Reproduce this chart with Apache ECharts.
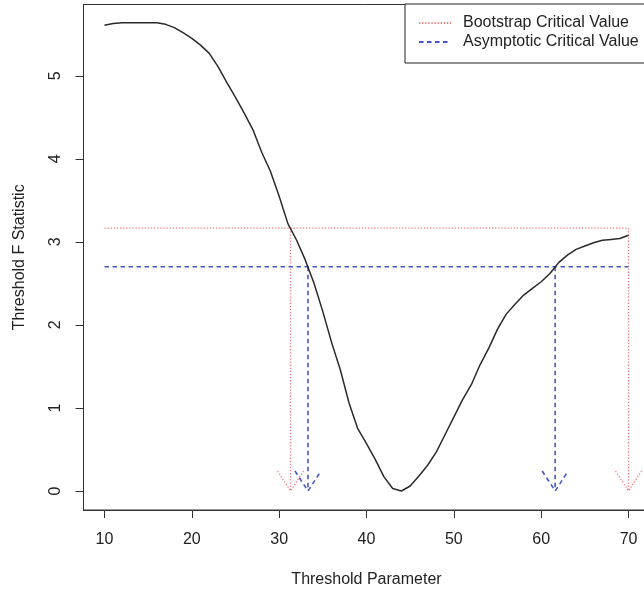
<!DOCTYPE html>
<html>
<head>
<meta charset="utf-8">
<script src="https://cdn.jsdelivr.net/npm/echarts@6/dist/echarts.min.js"></script>
<style>
  html, body { margin: 0; padding: 0; background: #fff; }
  #chart1 { width: 644px; height: 591px; }
</style>
</head>
<body>
<div id="chart1"></div>
<script>
  // threshold grid and F statistic
  var thresholds = [10, 11, 12, 13, 14, 15, 16, 17, 18, 19, 20, 21, 22, 23, 24, 25, 26, 27, 28, 29, 30,
    31, 32, 33, 34, 35, 36, 37, 38, 39, 40, 41, 42, 43, 44, 45, 46, 47, 48, 49, 50,
    51, 52, 53, 54, 55, 56, 57, 58, 59, 60, 61, 62, 63, 64, 65, 66, 67, 68, 69, 70];
  var fStats = [5.61, 5.63, 5.64, 5.64, 5.64, 5.64, 5.64, 5.62, 5.58, 5.52, 5.45,
    5.37, 5.27, 5.11, 4.92, 4.74, 4.55, 4.35, 4.08, 3.85, 3.55,
    3.22, 3.02, 2.78, 2.50, 2.16, 1.79, 1.46, 1.06, 0.75, 0.57,
    0.38, 0.17, 0.03, 0.00, 0.06, 0.18, 0.31, 0.47, 0.68, 0.89,
    1.10, 1.28, 1.52, 1.72, 1.95, 2.13, 2.25, 2.36, 2.44, 2.52,
    2.62, 2.75, 2.84, 2.91, 2.95, 2.99, 3.02, 3.03, 3.04, 3.08];

  var bootstrapCV = 3.165;
  var asymptoticCV = 2.70;
  var bootstrapX = [31.3, 70];     // where the arrows point for the bootstrap value
  var asymptoticX = [33.3, 61.6];  // ... and for the asymptotic value

  var xTicks = [10, 20, 30, 40, 50, 60, 70];
  var yTicks = [0, 1, 2, 3, 4, 5];

  const redCol = '#ef7b7b';
  const blueCol = '#4656c8';
  const redDash = [1.3, 1.8];
  const blueDash = [4.5, 3.5];

  // vertical line down to zero with an open arrow head
  const arrowSeries = (name, xs, cv, color, dash, width) => ({
    name: name,
    type: 'custom',
    silent: true,
    renderItem: function (params, api) {
      let top = api.coord([api.value(0), api.value(1)]);
      let tip = api.coord([api.value(0), 0]);
      let style = { stroke: color, lineWidth: width, lineDash: dash, fill: null };
      return {
        type: 'group',
        children: [
          { type: 'polyline', shape: { points: [top, tip] }, style: style },
          { type: 'polyline', shape: { points: [[tip[0] - 13, tip[1] - 20], tip, [tip[0] + 13, tip[1] - 20]] }, style: style }
        ]
      };
    },
    data: xs.map(x => [x, cv])
  });

  const drawThresholdChart = chartId => {
    let myChart = echarts.init(document.getElementById(chartId));
    let option;
    let font = "'Liberation Sans', Helvetica, Arial, sans-serif";

    option = {
      animation: false,
      textStyle: { fontFamily: font },
      grid: {
        left: 83.5,
        top: 4.5,
        width: 566,
        height: 505.5,
        show: true,
        borderColor: '#333',
        borderWidth: 1,
        outerBoundsMode: 'none'
      },
      legend: {
        data: ['Bootstrap Critical Value', 'Asymptotic Critical Value'],
        orient: 'vertical',
        left: 405,
        top: 4,
        padding: [11, 10, 13, 13],
        itemGap: 3,
        itemWidth: 32,
        itemHeight: 14,
        itemStyle: { opacity: 0 },
        backgroundColor: '#fff',
        borderColor: '#222',
        borderWidth: 1,
        borderRadius: 0,
        selectedMode: false,
        textStyle: { fontSize: 16, color: '#222', fontFamily: font, padding: [0, 0, 0, 7] }
      },
      xAxis: {
        type: 'value',
        min: 7.6,
        max: 72.4,
        name: 'Threshold Parameter',
        nameLocation: 'middle',
        nameGap: 62,
        nameTextStyle: { fontSize: 16, color: '#222', fontFamily: font },
        axisLine: { show: true, onZero: false, lineStyle: { color: '#333', width: 1 } },
        axisTick: { show: true, length: 8, customValues: xTicks, lineStyle: { color: '#333' } },
        axisLabel: { customValues: xTicks, fontSize: 16, color: '#222', margin: 22, fontFamily: font },
        splitLine: { show: false }
      },
      yAxis: {
        type: 'value',
        min: -0.229,
        max: 5.859,
        name: 'Threshold F Statistic',
        nameLocation: 'middle',
        nameGap: 56,
        nameTextStyle: { fontSize: 16, color: '#222', fontFamily: font },
        axisLine: { show: true, onZero: false, lineStyle: { color: '#333', width: 1 } },
        axisTick: { show: true, length: 8, customValues: yTicks, lineStyle: { color: '#333' } },
        axisLabel: { customValues: yTicks, fontSize: 16, color: '#222', margin: 20, rotate: 90, fontFamily: font },
        splitLine: { show: false }
      },
      series: [
        {
          name: 'Bootstrap Critical Value',
          type: 'line',
          symbol: 'none',
          silent: true,
          lineStyle: { color: redCol, width: 1.3, type: redDash },
          itemStyle: { color: redCol },
          data: [[thresholds[0], bootstrapCV], [thresholds[thresholds.length - 1], bootstrapCV]]
        },
        {
          name: 'Asymptotic Critical Value',
          type: 'line',
          symbol: 'none',
          silent: true,
          lineStyle: { color: blueCol, width: 1.6, type: blueDash },
          itemStyle: { color: blueCol },
          data: [[thresholds[0], asymptoticCV], [thresholds[thresholds.length - 1], asymptoticCV]]
        },
        arrowSeries('Bootstrap Critical Value', bootstrapX, bootstrapCV, redCol, redDash, 1.3),
        arrowSeries('Asymptotic Critical Value', asymptoticX, asymptoticCV, blueCol, blueDash, 1.6),
        {
          name: 'F',
          type: 'line',
          symbol: 'none',
          silent: true,
          lineStyle: { color: '#2a2a2a', width: 1.5 },
          data: thresholds.map((t, i) => [t, fStats[i]])
        }
      ]
    };

    option && myChart.setOption(option);
  }

  drawThresholdChart('chart1');
</script>
</body>
</html>
